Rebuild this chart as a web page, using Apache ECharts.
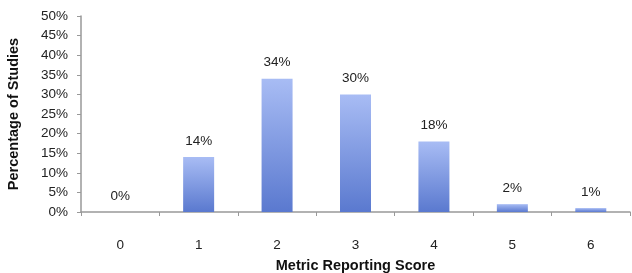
<!DOCTYPE html>
<html><head><meta charset="utf-8">
<script src="https://cdn.jsdelivr.net/npm/echarts@6/dist/echarts.min.js"></script>
<style>html,body{margin:0;padding:0;background:#fff}#c{width:632px;height:273px}</style>
</head><body><div id="c"></div>
<script>
const categories = ['0','1','2','3','4','5','6'];
const values = [0, 14, 34, 30, 18, 2, 1];
const yTicks = [0, 5, 10, 15, 20, 25, 30, 35, 40, 45, 50];

const chart = echarts.init(document.getElementById('c'));
const font = '"Liberation Sans", Arial, sans-serif';
chart.setOption({
  animation: false,
  grid: {left: 81, right: 2, top: 16, bottom: 61, containLabel: false, outerBoundsMode: 'none'},
  xAxis: {
    type: 'category', data: categories,
    name: 'Metric Reporting Score', nameLocation: 'middle', nameGap: 46,
    nameTextStyle: {fontFamily: font, fontWeight: 'bold', fontSize: 14.5, color: '#111'},
    axisLine: {lineStyle: {color: '#999', width: 1.5}},
    axisTick: {show: true, alignWithLabel: false, length: 4, lineStyle: {color: '#999'}},
    axisLabel: {fontFamily: font, fontSize: 13.5, color: '#222', margin: 26}
  },
  yAxis: {
    type: 'value', min: yTicks[0], max: yTicks[yTicks.length-1], interval: 5,
    name: 'Percentage of Studies', nameLocation: 'middle', nameGap: 60,
    nameTextStyle: {fontFamily: font, fontWeight: 'bold', fontSize: 14.5, color: '#111'},
    axisLine: {show: true, lineStyle: {color: '#999', width: 1.5}},
    axisTick: {show: true, length: 4, lineStyle: {color: '#999'}},
    splitLine: {show: false},
    axisLabel: {fontFamily: font, fontSize: 13.5, color: '#222', margin: 13, formatter: '{value}%'}
  },
  series: [{
    type: 'bar', data: values, barWidth: 31,
    itemStyle: {color: new echarts.graphic.LinearGradient(0,0,0,1,[{offset:0,color:'#a8bcf4'},{offset:1,color:'#5a79cf'}])},
    label: {show: true, position: 'top', distance: 9, formatter: '{c}%', fontFamily: font, fontSize: 13.5, color: '#222'}
  }]
});
</script></body></html>
